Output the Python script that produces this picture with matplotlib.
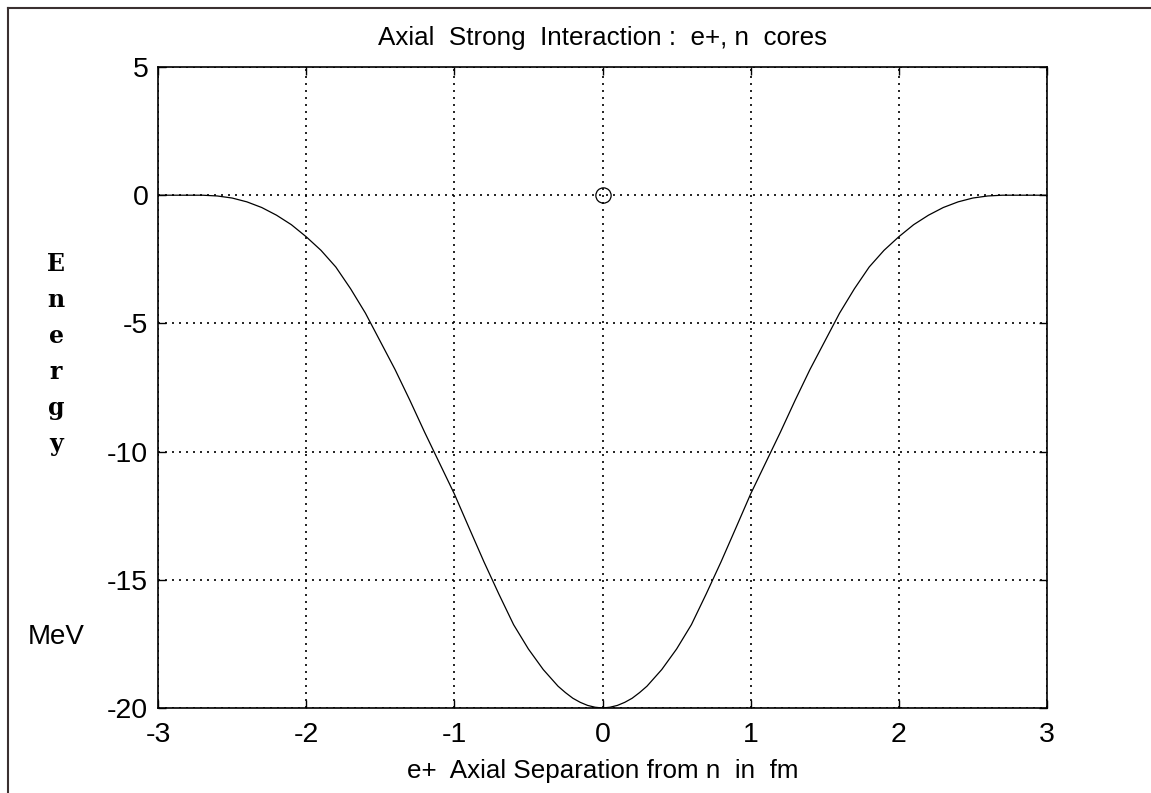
import numpy as np
import matplotlib.pyplot as plt

# axial separation (fm) and energy (MeV)
sep = [-3.0, -2.9, -2.8, -2.7, -2.6, -2.5, -2.4, -2.3, -2.2, -2.1,
       -2.0, -1.9, -1.8, -1.7, -1.6, -1.5, -1.4, -1.3, -1.2, -1.1,
       -1.0, -0.9, -0.8, -0.7, -0.6, -0.5, -0.4, -0.3, -0.25, -0.2, -0.15, -0.1, -0.05,
       0.0, 0.05, 0.1, 0.15, 0.2, 0.25, 0.3, 0.4, 0.5, 0.6, 0.7, 0.8, 0.9,
       1.0, 1.1, 1.2, 1.3, 1.4, 1.5, 1.6, 1.7, 1.8, 1.9,
       2.0, 2.1, 2.2, 2.3, 2.4, 2.5, 2.6, 2.7, 2.8, 2.9, 3.0]
energy = [0.0, 0.0, 0.0, 0.0, -0.03, -0.11, -0.26, -0.48, -0.78, -1.15,
          -1.62, -2.15, -2.8, -3.65, -4.6, -5.7, -6.8, -8.0, -9.25, -10.45,
          -11.65, -12.98, -14.3, -15.55, -16.75, -17.7, -18.5, -19.15, -19.4, -19.62, -19.78, -19.9, -19.97,
          -20.0, -19.97, -19.9, -19.78, -19.62, -19.4, -19.15, -18.5, -17.7, -16.75, -15.55, -14.3, -12.98,
          -11.65, -10.45, -9.25, -8.0, -6.8, -5.7, -4.6, -3.65, -2.8, -2.15,
          -1.62, -1.15, -0.78, -0.48, -0.26, -0.11, -0.03, 0.0, 0.0, 0.0, 0.0]
core_x = [0.0]
core_y = [0.0]
xticks = [-3, -2, -1, 0, 1, 2, 3]
yticks = [5, 0, -5, -10, -15, -20]

W, H = 1151, 793
plt.rcParams['font.family'] = ['Liberation Sans', 'DejaVu Sans']
plt.rcParams['axes.unicode_minus'] = False
fig = plt.figure(figsize=(W / 100, H / 100), dpi=100)
ax = fig.add_axes([158 / W, 1 - 708 / H, (1047 - 158) / W, (708 - 67) / H])

ax.plot(sep, energy, color='black', linewidth=0.9)
ax.plot(core_x, core_y, 'o', markersize=11, markerfacecolor='none',
        markeredgecolor='black', markeredgewidth=0.9)

ax.set_xlim(-3, 3)
ax.set_ylim(-20, 5)
ax.set_xticks(xticks)
ax.set_yticks(yticks)
ax.grid(True, color='black', linestyle=(0, (1.2, 3)), linewidth=1.2)
ax.tick_params(direction='in', length=6, width=1, top=True, right=True,
               labelsize=20.5)
ax.tick_params(axis='x', pad=10)
ax.tick_params(axis='y', pad=7)
for s in ax.spines.values():
    s.set_linewidth(1.2)

ax.set_title('Axial  Strong  Interaction :  e+, n  cores', fontsize=18.7, pad=16)
ax.set_xlabel('e+  Axial Separation from n  in  fm', fontsize=18.7, labelpad=8)

# vertical bold monospace label
for i, ch in enumerate('Energy'):
    fig.text(56 / W, 1 - (264 + i * 36) / H, ch, family='DejaVu Serif',
             fontweight='bold', fontsize=17, ha='center', va='center')
fig.text(56 / W, 1 - 637 / H, 'MeV', fontsize=20, ha='center', va='center')

# window frame lines
fig.add_artist(plt.Line2D([8 / W, 1], [1 - 8 / H, 1 - 8 / H], color='#3a3030', linewidth=1.5))
fig.add_artist(plt.Line2D([8 / W, 8 / W], [0, 1 - 8 / H], color='#3a3030', linewidth=1.5))

fig.savefig('out.png', dpi=100)
